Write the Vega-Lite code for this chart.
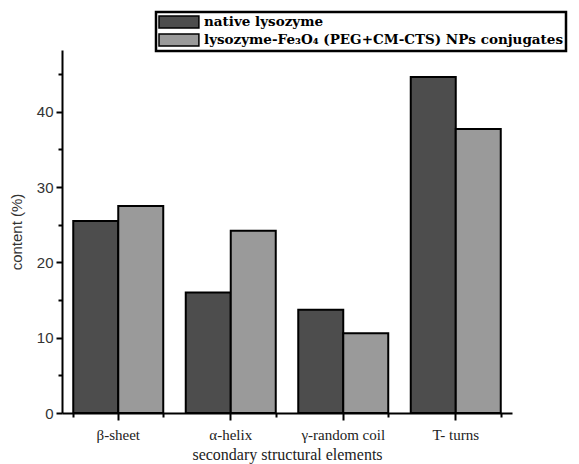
{
  "$schema": "https://vega.github.io/schema/vega-lite/v6.json",
  "width": 450,
  "height": 363,
  "autosize": "none",
  "padding": {"left": 62, "top": 50, "right": 67, "bottom": 51},
  "background": "white",
  "data": {
    "values": [
      {"element": "β-sheet", "sample": "native lysozyme", "content": 25.5},
      {"element": "β-sheet", "sample": "lysozyme-Fe₃O₄ (PEG+CM-CTS) NPs conjugates", "content": 27.5},
      {"element": "α-helix", "sample": "native lysozyme", "content": 16.0},
      {"element": "α-helix", "sample": "lysozyme-Fe₃O₄ (PEG+CM-CTS) NPs conjugates", "content": 24.2},
      {"element": "γ-random coil", "sample": "native lysozyme", "content": 13.7},
      {"element": "γ-random coil", "sample": "lysozyme-Fe₃O₄ (PEG+CM-CTS) NPs conjugates", "content": 10.6},
      {"element": "T- turns", "sample": "native lysozyme", "content": 44.6},
      {"element": "T- turns", "sample": "lysozyme-Fe₃O₄ (PEG+CM-CTS) NPs conjugates", "content": 37.7}
    ]
  },
  "layer": [
    {
      "mark": {"type": "bar", "stroke": "black", "strokeWidth": 2},
      "encoding": {
        "x": {
          "field": "element", "type": "nominal",
          "sort": ["β-sheet", "α-helix", "γ-random coil", "T- turns"],
          "scale": {"paddingInner": 0.2, "paddingOuter": 0.1},
          "axis": {
            "orient": "bottom",
            "title": "secondary structural elements",
            "labelAngle": 0,
            "labelFont": "Liberation Serif", "labelFontSize": 15, "labelColor": "#222",
            "titleFont": "Liberation Serif", "titleFontSize": 16, "titleFontWeight": "normal", "titleColor": "#222",
            "titlePadding": 4,
            "domainColor": "black", "domainWidth": 2,
            "tickColor": "black", "tickWidth": 2, "tickSize": 7,
            "labelPadding": 7
          }
        },
        "xOffset": {
          "field": "sample", "type": "nominal",
          "sort": ["native lysozyme", "lysozyme-Fe₃O₄ (PEG+CM-CTS) NPs conjugates"],
          "scale": {"paddingInner": 0, "paddingOuter": 0}
        },
        "y": {
          "field": "content", "type": "quantitative",
          "scale": {"domain": [0, 48.2], "nice": false},
          "axis": {
            "orient": "left",
            "title": "content (%)",
            "values": [0, 10, 20, 30, 40],
            "grid": false,
            "labelFont": "Liberation Sans", "labelFontSize": 15, "labelColor": "#333",
            "titleFont": "Liberation Sans", "titleFontSize": 15, "titleFontWeight": "normal", "titleColor": "#333",
            "titlePadding": 12,
            "domainColor": "black", "domainWidth": 2,
            "tickColor": "black", "tickWidth": 2, "tickSize": 6,
            "labelPadding": 3
          }
        },
        "fill": {
          "field": "sample", "type": "nominal",
          "scale": {
            "domain": ["native lysozyme", "lysozyme-Fe₃O₄ (PEG+CM-CTS) NPs conjugates"],
            "range": ["#4d4d4d", "#9a9a9a"]
          },
          "legend": {
            "title": null,
            "orient": "none",
            "legendX": 94,
            "legendY": -38,
            "direction": "vertical",
            "strokeColor": "black",
            "padding": 2,
            "symbolType": "M-1,-0.85L4.7,-0.85L4.7,0.85L-1,0.85Z",
            "symbolSize": 196,
            "symbolStrokeColor": "black",
            "symbolStrokeWidth": 1.5,
            "labelFont": "DejaVu Serif", "labelFontSize": 13.5, "labelFontWeight": "bold",
            "labelColor": "black", "labelLimit": 0, "labelOffset": 30,
            "rowPadding": 0,
            "encode": {"legend": {"update": {"strokeWidth": {"value": 2.5}}}}
          }
        }
      }
    },
    {
      "mark": {"type": "bar", "opacity": 0},
      "encoding": {
        "x": {
          "field": "element", "type": "nominal",
          "sort": ["β-sheet", "α-helix", "γ-random coil", "T- turns"],
          "axis": {
            "orient": "bottom", "title": null, "labels": false, "domain": false,
            "tickBand": "extent", "tickColor": "black", "tickWidth": 2, "tickSize": 4
          }
        },
        "xOffset": {"field": "sample", "type": "nominal",
          "sort": ["native lysozyme", "lysozyme-Fe₃O₄ (PEG+CM-CTS) NPs conjugates"]},
        "y": {
          "field": "content", "type": "quantitative",
          "axis": {
            "orient": "left", "title": null, "labels": false, "domain": false, "grid": false,
            "values": [5, 15, 25, 35, 45], "tickColor": "black", "tickWidth": 2, "tickSize": 4
          }
        }
      }
    }
  ],
  "resolve": {"axis": {"x": "independent", "y": "independent"}},
  "config": {"view": {"stroke": null}}
}
